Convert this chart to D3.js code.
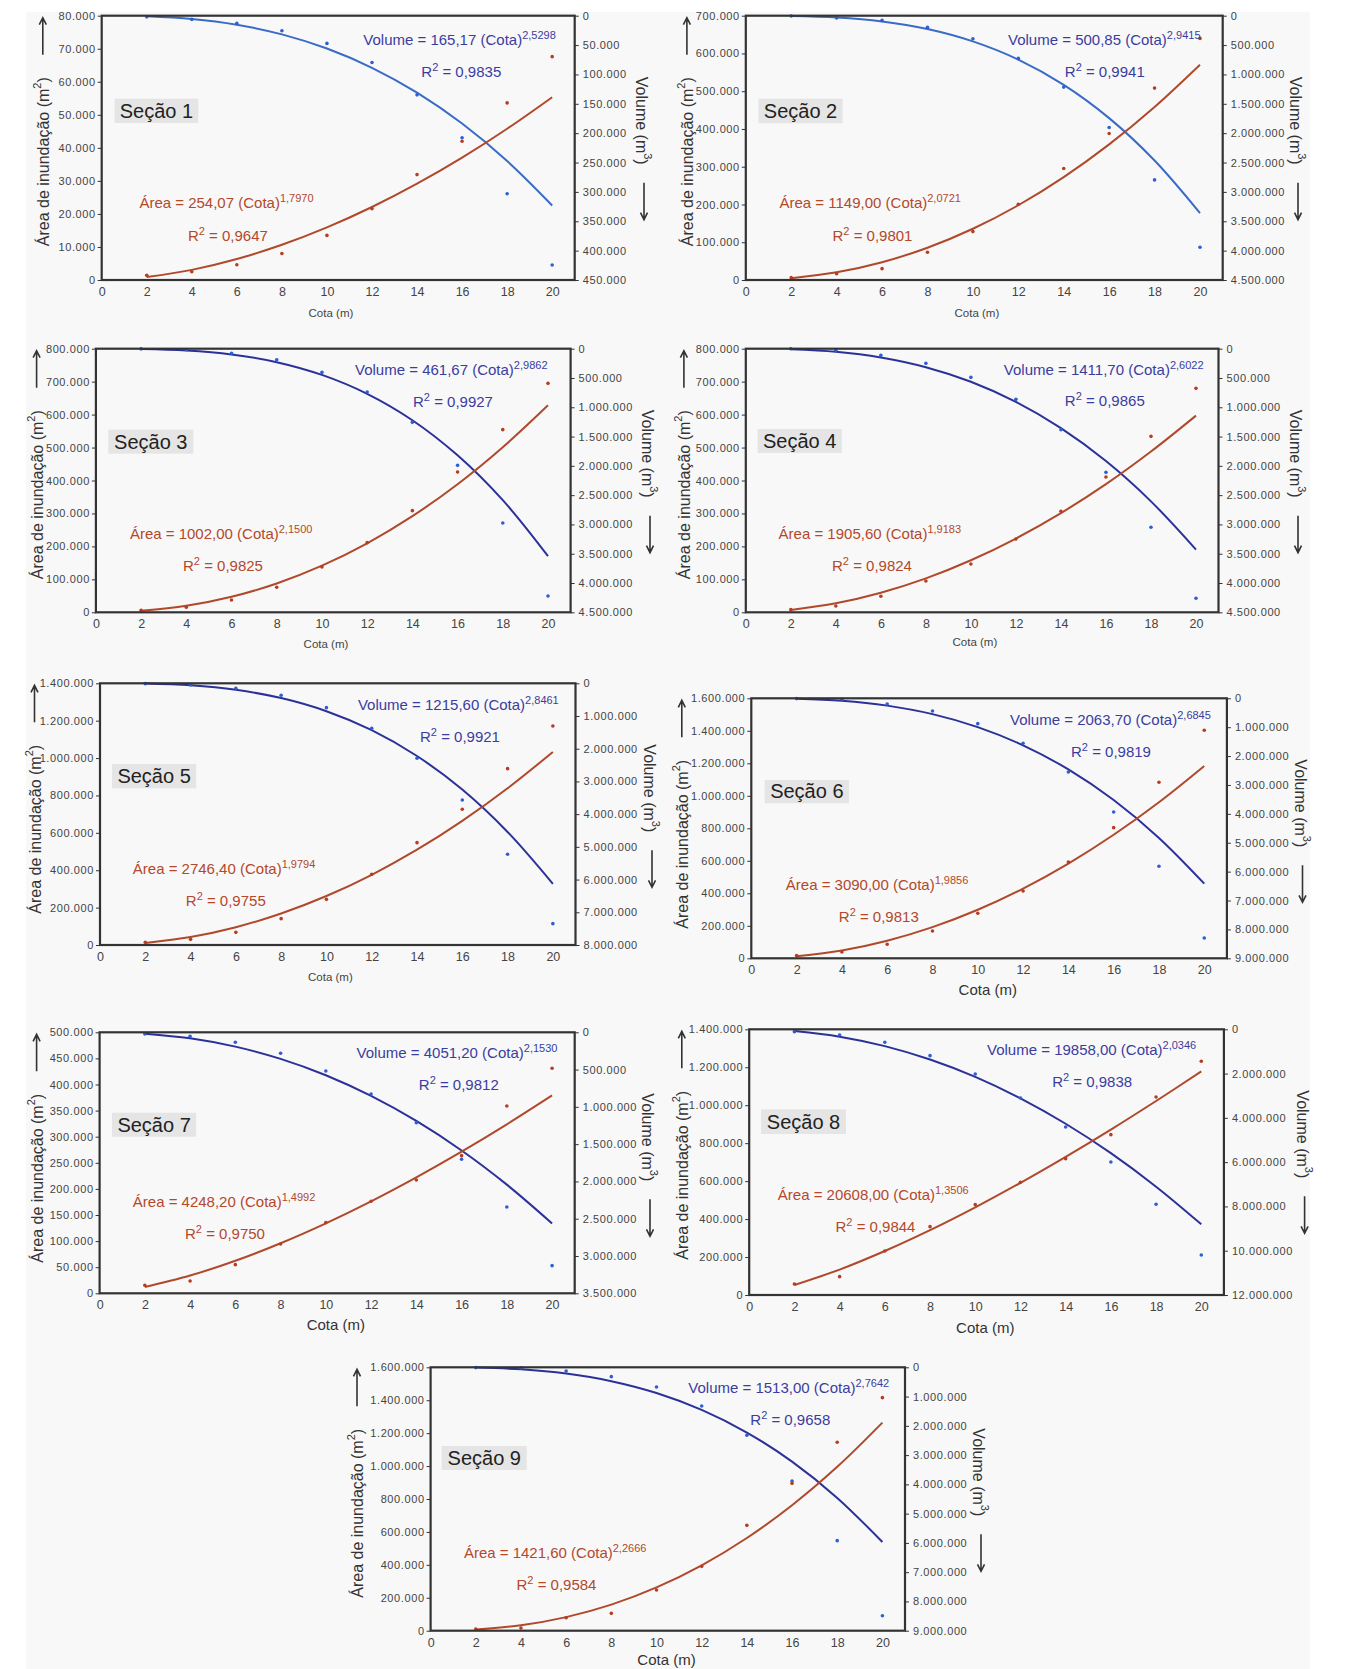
<!DOCTYPE html>
<html><head><meta charset="utf-8">
<script src="https://cdn.jsdelivr.net/npm/d3@7"></script>
<style>
html,body{margin:0;padding:0;background:#fff;}
svg{display:block;font-family:"Liberation Sans",Arial,Helvetica,sans-serif;}
</style></head><body>
<svg id="chart" width="1348" height="1669"></svg>
<script>
// ---------- DATA ----------
const cota = [2, 4, 6, 8, 10, 12, 14, 16, 18, 20];
const xTicks = [0, 2, 4, 6, 8, 10, 12, 14, 16, 18, 20];
const sectionNames = ["Seção 1","Seção 2","Seção 3","Seção 4","Seção 5","Seção 6","Seção 7","Seção 8","Seção 9"];

const areaMax  = [80000, 700000, 800000, 800000, 1400000, 1600000, 500000, 1400000, 1600000];
const areaStep = [10000, 100000, 100000, 100000, 200000, 200000, 50000, 200000, 200000];
const volMax   = [450000, 4500000, 4500000, 4500000, 8000000, 9000000, 3500000, 12000000, 9000000];
const volStep  = [50000, 500000, 500000, 500000, 1000000, 1000000, 500000, 2000000, 1000000];

const areaEqA = ["254,07","1149,00","1002,00","1905,60","2746,40","3090,00","4248,20","20608,00","1421,60"];
const areaEqB = ["1,7970","2,0721","2,1500","1,9183","1,9794","1,9856","1,4992","1,3506","2,2666"];
const areaR2  = ["0,9647","0,9801","0,9825","0,9824","0,9755","0,9813","0,9750","0,9844","0,9584"];
const volEqA  = ["165,17","500,85","461,67","1411,70","1215,60","2063,70","4051,20","19858,00","1513,00"];
const volEqB  = ["2,5298","2,9415","2,9862","2,6022","2,8461","2,6845","2,1530","2,0346","2,7642"];
const volR2   = ["0,9835","0,9941","0,9927","0,9865","0,9921","0,9819","0,9812","0,9838","0,9658"];

const areaObs = [
  [1400, 2500, 4600, 8000, 13500, 21600, 31900, 42000, 53600, 67600],
  [6200, 16800, 30000, 73400, 128200, 200600, 295200, 388000, 508200, 639900],
  [6100, 15200, 37400, 75900, 137600, 211400, 308500, 425800, 554300, 694800],
  [8100, 19200, 48600, 95100, 146700, 222500, 306500, 410600, 534000, 679700],
  [14300, 30300, 67800, 140900, 244300, 378100, 547500, 725900, 943400, 1171700],
  [16400, 39000, 86200, 168200, 276900, 414400, 592800, 804100, 1083100, 1403100],
  [15300, 23600, 54900, 94500, 135400, 176300, 217100, 263700, 358900, 431100],
  [58000, 96600, 231900, 360100, 476000, 593700, 718500, 844900, 1043400, 1231400],
  [10100, 16200, 79000, 105300, 247100, 390900, 640000, 895200, 1144300, 1415700]
];
const volObs = [
  [2000, 6300, 13100, 25600, 47200, 79700, 134800, 207700, 303200, 424400],
  [5000, 39800, 79600, 198900, 392100, 727300, 1216000, 1903500, 2795500, 3943300],
  [3000, 17000, 79700, 187700, 403900, 739600, 1257300, 1991200, 2975400, 4221200],
  [2000, 28500, 113800, 250300, 489300, 864700, 1382400, 2110600, 3049300, 4261100],
  [10000, 50000, 152900, 366900, 744000, 1375800, 2293000, 3566900, 5228000, 7347700],
  [10000, 34600, 196200, 438500, 876900, 1557700, 2549900, 3934500, 5815400, 8296000],
  [22400, 53600, 134100, 281600, 518500, 827000, 1211400, 1703100, 2342300, 3129000],
  [105400, 256000, 587200, 1189400, 2017500, 3101500, 4411400, 5992300, 7904400, 10192900],
  [10000, 20000, 125300, 319000, 672100, 1321500, 2324000, 3884700, 5923800, 8487000]
];
// trend-line values at each cota
const areaFit = [
  [883, 3067, 6357, 10656, 15920, 22091, 29145, 37040, 45780, 55330],
  [4832, 20315, 47064, 85420, 135660, 197970, 272430, 359180, 458340, 570250],
  [4447, 19740, 47190, 87590, 141580, 209420, 291780, 388680, 501000, 628250],
  [7203, 27230, 59265, 102900, 157880, 223910, 301080, 388930, 487830, 596830],
  [10830, 42710, 95300, 168440, 261950, 375710, 509730, 664080, 838480, 1032650],
  [12236, 48450, 108430, 191950, 298930, 429200, 583080, 760140, 960370, 1183780],
  [12010, 33950, 62360, 95970, 134110, 176210, 222100, 271290, 323670, 379020],
  [52550, 134010, 231840, 341680, 462030, 591040, 727870, 871510, 1022160, 1178160],
  [6841, 32910, 82520, 158370, 262710, 397050, 563100, 761980, 995260, 1263800]
];
const volFit = [
  [954, 5509, 15366, 31810, 55930, 88700, 131050, 183640, 247400, 323100],
  [3847, 29550, 97420, 226980, 437800, 748270, 1177500, 1743960, 2465700, 3361200],
  [3658, 28990, 97320, 229730, 447360, 770540, 1221120, 1820350, 2586270, 3541930],
  [8571, 52050, 149500, 316080, 564540, 908150, 1356640, 1918500, 2606000, 3429000],
  [8740, 62850, 199240, 451720, 852870, 1432000, 2222120, 3248080, 4543910, 6130270],
  [13266, 85270, 253420, 548120, 997390, 1628050, 2461990, 3522740, 4833190, 6416040],
  [18015, 80130, 191820, 356390, 576080, 853180, 1189030, 1584830, 2043020, 2563190],
  [81360, 333420, 760760, 1365830, 2150620, 3117710, 4265500, 5594000, 7107180, 8807000],
  [10278, 69830, 214240, 474330, 879200, 1455660, 2228650, 3222690, 4461840, 5970300]
];

// ---------- LAYOUT (positions only) ----------
const layout = [
 {L:101.7,T:15.7,R:574.7,B:280, ve:[363.3,45], vr:[421.3,76.7], box:[114.5,98.7,198.3,123], ae:[139.4,208.3], ar:[187.9,240.7], yl:42.8, rl:642, xl:316.7, big:0, dark:0},
 {L:745.8,T:15.7,R:1222.7,B:280, ve:[1008,45], vr:[1064.8,76.7], box:[758.4,98.7,842.6,123.3], ae:[779.5,208.3], ar:[832.5,240.7], yl:686.9, rl:1296, xl:316.7, big:0, dark:0},
 {L:95.9,T:348.7,R:570.6,B:612.3, ve:[355,374.7], vr:[413,407], box:[108.3,429.7,193.3,453.7], ae:[129.9,539], ar:[183,571.3], yl:36.6, rl:648, xl:648, big:0, dark:1},
 {L:745.8,T:348.7,R:1218.5,B:612.3, ve:[1003.8,374.7], vr:[1064.8,406.3], box:[757.6,429,841.8,453], ae:[778.6,538.7], ar:[832,570.7], yl:683.9, rl:1296, xl:646, big:0, dark:1},
 {L:100,T:683.3,R:575.5,B:945, ve:[357.9,710], vr:[420,741.7], box:[112,764,196.2,788.3], ae:[132.8,874.3], ar:[185.8,905.7], yl:34.5, rl:650, xl:981, big:0, dark:1},
 {L:751.3,T:698.3,R:1226.9,B:958.3, ve:[1010,725], vr:[1071,756.7], box:[764.7,780,849,803.3], ae:[785.8,890], ar:[838.8,921.7], yl:681.8, rl:1300.5, xl:995, big:1, dark:1},
 {L:99.6,T:1032.3,R:574.7,B:1293.3, ve:[356.6,1058.3], vr:[418.8,1090], box:[112,1112.7,196.2,1136.7], ae:[132.8,1207.3], ar:[185,1239.3], yl:36.6, rl:648, xl:1330, big:1, dark:1},
 {L:749.2,T:1029.3,R:1223.9,B:1295, ve:[987,1055], vr:[1052.2,1086.7], box:[761,1109.3,846,1134], ae:[777.8,1200], ar:[835.5,1231.7], yl:681.8, rl:1302.6, xl:1333.3, big:1, dark:1},
 {L:430.6,T:1367.3,R:905,B:1630.7, ve:[688.3,1393.3], vr:[750.3,1425], box:[441.7,1446,526.8,1470], ae:[463.9,1558.3], ar:[516.5,1590], yl:357, rl:979, xl:1665, big:1, dark:1}
];

const RED_LINE = "#b0492b", RED_PT = "#b83c20", RED_TXT = "#b3482b";
const BLUE_TXT = "#3a3da0", BLUE_PT = "#2c5fd6";
const BLUE_LINE_LIGHT = "#3a6bc6", BLUE_LINE_DARK = "#2c3198";
const AX = "#333", LBL = "#444";

const loc = d3.formatLocale({decimal:",", thousands:".", grouping:[3], currency:["",""]});
const fmt = loc.format(",d");

const svg = d3.select("#chart");
svg.append("rect").attr("x",26).attr("y",12).attr("width",1284).attr("height",1657).attr("fill","#f8f8f8");

function supText(sel, parts, baseSize, supSize) {
  // parts: [{t, sup}]
  let raised = false;
  parts.forEach(p => {
    const ts = sel.append("tspan").text(p.t);
    if (p.sup && !raised) { ts.attr("dy", -6).attr("font-size", supSize); raised = true; }
    else if (!p.sup && raised) { ts.attr("dy", 6); raised = false; }
  });
}

sectionNames.forEach((name, i) => {
  const lay = layout[i];
  const g = svg.append("g");
  const x = d3.scaleLinear().domain([0, 21]).range([lay.L, lay.R]);
  const yA = d3.scaleLinear().domain([0, areaMax[i]]).range([lay.B, lay.T]);
  const yV = d3.scaleLinear().domain([0, volMax[i]]).range([lay.T, lay.B]);

  const aTicks = d3.range(0, areaMax[i] + areaStep[i] / 2, areaStep[i]);
  const vTicks = d3.range(0, volMax[i] + volStep[i] / 2, volStep[i]);

  // x axis
  const gx = g.append("g").attr("transform", `translate(0,${lay.B})`)
    .call(d3.axisBottom(x).tickValues(xTicks).tickSize(0).tickPadding(7).tickFormat(d3.format("d")));
  gx.select(".domain").remove();
  gx.selectAll("text").attr("font-size", 12.5).attr("fill", LBL).attr("font-family", "Liberation Sans, Arial, sans-serif");

  // left axis
  const gl = g.append("g").attr("transform", `translate(${lay.L},0)`)
    .call(d3.axisLeft(yA).tickValues(aTicks).tickSize(4).tickPadding(2).tickFormat(fmt));
  gl.select(".domain").remove();
  gl.selectAll("line").attr("stroke", AX);
  gl.selectAll("text").attr("font-size", 11).attr("letter-spacing", 0.6).attr("fill", LBL).attr("font-family", "Liberation Sans, Arial, sans-serif");

  // right axis
  const gr = g.append("g").attr("transform", `translate(${lay.R},0)`)
    .call(d3.axisRight(yV).tickValues(vTicks).tickSize(4).tickPadding(4).tickFormat(fmt));
  gr.select(".domain").remove();
  gr.selectAll("line").attr("stroke", AX);
  gr.selectAll("text").attr("font-size", 11).attr("letter-spacing", 0.6).attr("fill", LBL).attr("font-family", "Liberation Sans, Arial, sans-serif");

  // trend lines
  const lineA = d3.line().x((d, j) => x(cota[j])).y(d => yA(d)).curve(d3.curveCatmullRom.alpha(0.5));
  const lineV = d3.line().x((d, j) => x(cota[j])).y(d => yV(d)).curve(d3.curveCatmullRom.alpha(0.5));
  g.append("path").attr("d", lineV(volFit[i])).attr("fill", "none")
    .attr("stroke", lay.dark ? BLUE_LINE_DARK : BLUE_LINE_LIGHT).attr("stroke-width", 2);
  g.append("path").attr("d", lineA(areaFit[i])).attr("fill", "none")
    .attr("stroke", RED_LINE).attr("stroke-width", 2);

  // points
  g.selectAll(".pv").data(volObs[i]).join("circle")
    .attr("cx", (d, j) => x(cota[j])).attr("cy", d => yV(d)).attr("r", 1.8).attr("fill", BLUE_PT);
  g.selectAll(".pa").data(areaObs[i]).join("circle")
    .attr("cx", (d, j) => x(cota[j])).attr("cy", d => yA(d)).attr("r", 1.8).attr("fill", RED_PT);

  // frame
  g.append("rect").attr("x", lay.L).attr("y", lay.T).attr("width", lay.R - lay.L).attr("height", lay.B - lay.T)
    .attr("fill", "none").attr("stroke", AX).attr("stroke-width", 2.2);

  // x label
  g.append("text").attr("x", x(10) + (lay.big ? 10 : 4)).attr("y", lay.xl)
    .attr("text-anchor", "middle").attr("font-size", lay.big ? 15 : 11.5).attr("fill", lay.big ? "#333" : LBL)
    .text("Cota (m)");

  // left y label (rotated)
  const ty = lay.T + 146;
  const tl = g.append("text").attr("transform", `translate(${lay.yl},${ty}) rotate(-90)`)
    .attr("text-anchor", "middle").attr("dominant-baseline", "central").attr("font-size", 16).attr("fill", "#333");
  supText(tl, [{t:"Área de inundação (m"}, {t:"2", sup:true}, {t:")"}], 16, 11);

  // right y label
  const tr = g.append("text").attr("transform", `translate(${lay.rl},${lay.T + 105}) rotate(90)`)
    .attr("text-anchor", "middle").attr("dominant-baseline", "central").attr("font-size", 16).attr("fill", "#333");
  supText(tr, [{t:"Volume (m"}, {t:"3", sup:true}, {t:")"}], 16, 11);

  // arrows
  const ax1 = lay.yl, ay0 = lay.T + 2, ay1 = lay.T + 39;
  g.append("path").attr("d", `M${ax1},${ay1}L${ax1},${ay0}M${ax1 - 3.5},${ay0 + 7}L${ax1},${ay0}L${ax1 + 3.5},${ay0 + 7}`)
    .attr("fill", "none").attr("stroke", "#333").attr("stroke-width", 1.6);
  const bx = lay.rl + 2, by0 = lay.T + 167, by1 = lay.T + 204;
  g.append("path").attr("d", `M${bx},${by0}L${bx},${by1}M${bx - 3.5},${by1 - 7}L${bx},${by1}L${bx + 3.5},${by1 - 7}`)
    .attr("fill", "none").attr("stroke", "#333").attr("stroke-width", 1.6);

  // section label
  const b = lay.box;
  g.append("rect").attr("x", b[0]).attr("y", b[1]).attr("width", b[2] - b[0]).attr("height", b[3] - b[1]).attr("fill", "#e5e5e5");
  g.append("text").attr("x", (b[0] + b[2]) / 2).attr("y", b[3] - 5).attr("text-anchor", "middle")
    .attr("font-size", 20).attr("fill", "#222").text(name);

  // equations
  const ve = g.append("text").attr("x", lay.ve[0]).attr("y", lay.ve[1]).attr("font-size", 15).attr("fill", BLUE_TXT);
  supText(ve, [{t:`Volume = ${volEqA[i]} (Cota)`}, {t: volEqB[i], sup:true}], 15, 11);
  const vr = g.append("text").attr("x", lay.vr[0]).attr("y", lay.vr[1]).attr("font-size", 15).attr("fill", BLUE_TXT);
  supText(vr, [{t:"R"}, {t:"2", sup:true}, {t:` = ${volR2[i]}`}], 15, 11);
  const ae = g.append("text").attr("x", lay.ae[0]).attr("y", lay.ae[1]).attr("font-size", 15).attr("fill", RED_TXT);
  supText(ae, [{t:`Área = ${areaEqA[i]} (Cota)`}, {t: areaEqB[i], sup:true}], 15, 11);
  const ar = g.append("text").attr("x", lay.ar[0]).attr("y", lay.ar[1]).attr("font-size", 15).attr("fill", RED_TXT);
  supText(ar, [{t:"R"}, {t:"2", sup:true}, {t:` = ${areaR2[i]}`}], 15, 11);
});
</script>
</body></html>
